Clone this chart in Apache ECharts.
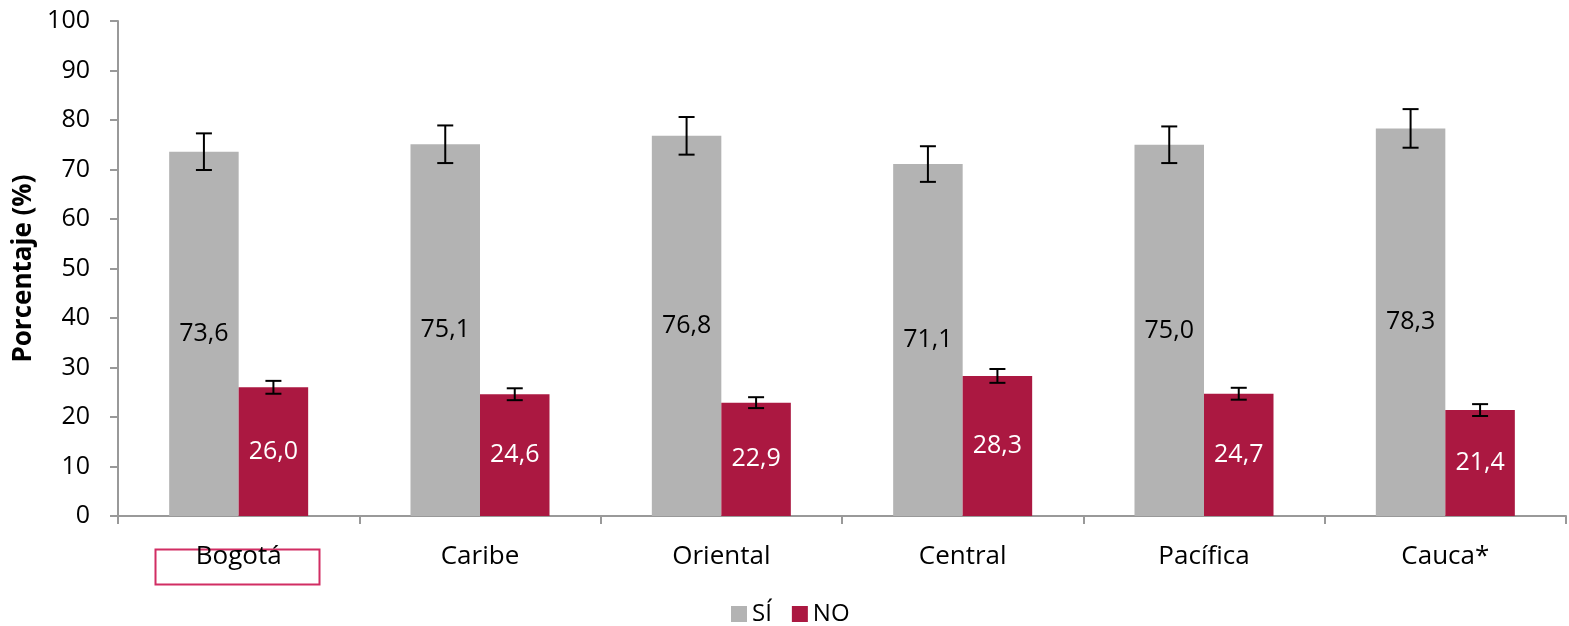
<!DOCTYPE html>
<html><head><meta charset="utf-8">
<script src="https://cdn.jsdelivr.net/npm/echarts@6/dist/echarts.min.js"></script>
<style>html,body{margin:0;padding:0;background:#fff}#c{width:1569px;height:626px}</style>
</head><body><div id="c"></div>
<script>
const categories = ['Bogotá','Caribe','Oriental','Central','Pacífica','Cauca*'];
const siValues = [73.6, 75.1, 76.8, 71.1, 75.0, 78.3];
const noValues = [26.0, 24.6, 22.9, 28.3, 24.7, 21.4];
const siErr = [3.7, 3.8, 3.8, 3.6, 3.7, 3.9];
const noErr = [1.3, 1.2, 1.1, 1.4, 1.2, 1.2];
const yTicks = [0,10,20,30,40,50,60,70,80,90,100];

const FONT = '"Open Sans", "Noto Sans", sans-serif';
const BAR_FRAC = 0.288;
const fmt = v => v.toFixed(1).replace('.', ',');

function errSeries(vals, errs, side) {
  return {
    type: 'custom',
    z: 10,
    silent: true,
    data: vals.map((v, i) => [i, v - errs[i], v + errs[i]]),
    renderItem: function (params, api) {
      const band = api.size([1, 0])[0];
      const off = side * band * BAR_FRAC / 2;
      const lo = api.coord([api.value(0), api.value(1)]);
      const hi = api.coord([api.value(0), api.value(2)]);
      const x = lo[0] + off;
      const cap = 8;
      const st = { stroke: '#000', lineWidth: 2 };
      return { type: 'group', children: [
        { type: 'line', shape: { x1: x, y1: lo[1], x2: x, y2: hi[1] }, style: st },
        { type: 'line', shape: { x1: x - cap, y1: lo[1], x2: x + cap, y2: lo[1] }, style: st },
        { type: 'line', shape: { x1: x - cap, y1: hi[1], x2: x + cap, y2: hi[1] }, style: st }
      ]};
    }
  };
}

const chart = echarts.init(document.getElementById('c'));
chart.setOption({
  animation: false,
  textStyle: { fontFamily: FONT },
  grid: { left: 118, right: 3, top: 21, bottom: 110, containLabel: false },
  legend: {
    data: ['SÍ', 'NO'],
    top: 602,
    left: 731,
    padding: 0,
    itemWidth: 16, itemHeight: 16, itemGap: 20,
    textStyle: { fontSize: 24, color: '#000', fontFamily: FONT },
    icon: 'rect'
  },
  xAxis: {
    type: 'category',
    data: categories,
    axisLine: { lineStyle: { color: '#999', width: 2 } },
    axisTick: { show: true, length: 8, lineStyle: { color: '#999', width: 2 } },
    axisLabel: { fontSize: 26, color: '#000', margin: 28 }
  },
  yAxis: {
    type: 'value', min: 0, max: 100, interval: 10,
    name: 'Porcentaje (%)',
    nameLocation: 'middle', nameGap: 80,
    nameTextStyle: { fontSize: 26, fontWeight: 'bold', color: '#000' },
    axisLine: { show: true, lineStyle: { color: '#999', width: 2 } },
    axisTick: { show: true, length: 8, lineStyle: { color: '#999', width: 2 } },
    splitLine: { show: false },
    axisLabel: { fontSize: 25, color: '#000', margin: 28,
      formatter: v => yTicks.includes(v) ? String(v) : '' }
  },
  series: [
    { name: 'SÍ', type: 'bar', data: siValues, barWidth: (BAR_FRAC*100)+'%', barGap: '0%',
      itemStyle: { color: '#b3b3b3' },
      label: { show: true, position: 'inside', formatter: p => fmt(p.value), fontSize: 25, color: '#000' } },
    { name: 'NO', type: 'bar', data: noValues, barWidth: (BAR_FRAC*100)+'%', barGap: '0%',
      itemStyle: { color: '#ab1841' },
      label: { show: true, position: 'inside', formatter: p => fmt(p.value), fontSize: 25, color: '#fff' } },
    errSeries(siValues, siErr, -1),
    errSeries(noValues, noErr, 1)
  ],
  graphic: [{
    type: 'rect', left: 153, top: 547,
    shape: { width: 164, height: 35 },
    style: { fill: 'none', stroke: '#d12d63', lineWidth: 2 }
  }]
});
</script></body></html>
